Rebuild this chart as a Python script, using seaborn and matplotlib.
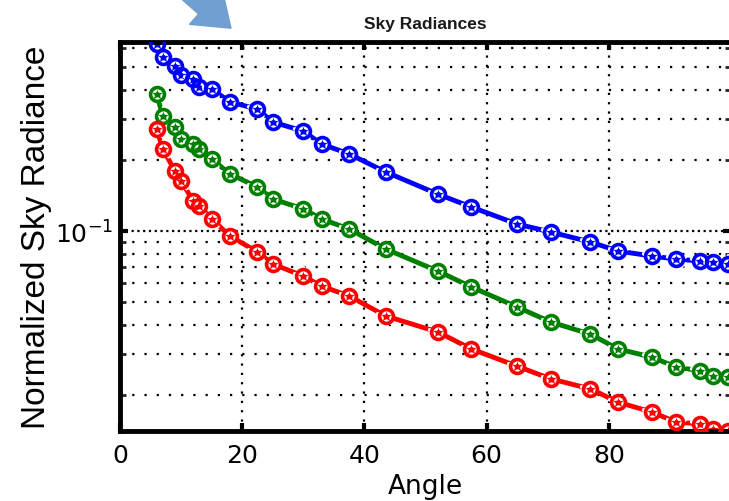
import numpy as np
import pandas as pd
import matplotlib
matplotlib.use("Agg")
import matplotlib.pyplot as plt
from matplotlib.ticker import FixedLocator, LogLocator, NullFormatter
import seaborn as sns

# Scattering angles (degrees) of the almucantar samples
angles = [6, 7, 9, 10, 12, 13, 15, 18, 22.5, 25, 30, 33, 37.5, 43.5, 52,
          57.5, 65, 70.5, 77, 81.5, 87, 91, 95, 97, 99.5]

# Normalized sky radiance per wavelength channel
blue_vals = [0.625, 0.550, 0.504, 0.461, 0.443, 0.410, 0.402, 0.354, 0.330,
             0.291, 0.266, 0.2345, 0.2127, 0.1783, 0.1437, 0.1265, 0.1071,
             0.0990, 0.0898, 0.0822, 0.0783, 0.0760, 0.0745, 0.0738, 0.0724]
green_vals = [0.383, 0.3086, 0.2771, 0.2463, 0.2345, 0.2233, 0.2025, 0.1748,
              0.1539, 0.1369, 0.1241, 0.1125, 0.1020, 0.0838, 0.0676, 0.0578,
              0.0475, 0.0410, 0.0364, 0.0315, 0.0291, 0.0264, 0.0254, 0.0242,
              0.0239]
red_vals = [0.2716, 0.2233, 0.180, 0.1632, 0.1342, 0.1278, 0.1125, 0.0952,
            0.0814, 0.0724, 0.0643, 0.0583, 0.0529, 0.0435, 0.0372, 0.0315,
            0.0266, 0.0235, 0.0213, 0.0187, 0.0170, 0.0154, 0.0151, 0.01437,
            0.0141]

channels = ["blue", "green", "red"]
channel_colors = {"blue": "#0000ff", "green": "#008000", "red": "#ff0000"}
xticks = [0, 20, 40, 60, 80]

df = pd.DataFrame({
    "Angle": angles * 3,
    "Radiance": blue_vals + green_vals + red_vals,
    "channel": sum([[c] * len(angles) for c in channels], []),
})

sns.set_theme(style="white")
plt.rcParams["font.family"] = ["DejaVu Sans"]

W, H = 729, 502
fig = plt.figure(figsize=(W / 100, H / 100), dpi=100)
ax = fig.add_axes([120 / W, 70 / H, (731 - 120) / W, (459 - 70) / H])

# modelled curve with star markers
sns.lineplot(data=df, x="Angle", y="Radiance", hue="channel",
             palette=channel_colors, sort=False, ax=ax, legend=False,
             linewidth=3.5, marker="*", markersize=15, markeredgewidth=2)
# measured values as open circles
for c in channels:
    sub = df[df["channel"] == c]
    ax.plot(sub["Angle"], sub["Radiance"], linestyle="none", marker="o",
            markersize=10, markerfacecolor="none", markeredgecolor=channel_colors[c],
            markeredgewidth=2.6, zorder=4)

ax.set_yscale("log")
ax.set_xlim(0, 100)
ax.set_ylim(0.0141, 0.637)

ax.set_xticks(xticks)
ax.set_xticklabels([str(t) for t in xticks])
ax.yaxis.set_major_locator(FixedLocator([0.1]))
ax.set_yticklabels([r"$10^{-1}$"])
ax.yaxis.set_minor_locator(LogLocator(base=10, subs=np.arange(2, 10)))
ax.yaxis.set_minor_formatter(NullFormatter())

# dotted grid
ax.grid(which="major", axis="x", color="black", linestyle=(0, (1, 3.2)), linewidth=1.6)
ax.grid(which="major", axis="y", color="black", linestyle=(0, (1, 1.6)), linewidth=1.6)
ax.grid(which="minor", axis="y", color="black", linestyle=(0, (1, 4.5)), linewidth=1.6)

for side in ["left", "bottom", "top", "right"]:
    ax.spines[side].set_visible(True)
    ax.spines[side].set_color("black")
    ax.spines[side].set_linewidth(3.5)

ax.tick_params(axis="both", which="major", direction="in", length=6, width=3,
               top=True, right=True, bottom=True, left=True,
               labelsize=18, colors="black", pad=9)
ax.tick_params(axis="y", which="major", pad=5)
ax.tick_params(axis="y", which="minor", direction="in", length=4, width=2,
               left=True, right=True)

ax.set_xlabel("Angle", fontsize=19, labelpad=4, color="black")
ax.set_ylabel("Normalized Sky Radiance", fontsize=24, family="Liberation Sans",
              color="black")
ax.yaxis.set_label_coords((52 - 120) / 611, 0.5)
ax.set_title("Sky Radiances", fontsize=12.5, fontweight="bold",
             family="Liberation Sans", pad=10, color="#1a1a1a")

# pointer arrow above the panel
ax.annotate("", xy=(233, H - 31), xytext=(175, H + 20),
            xycoords="figure pixels", textcoords="figure pixels",
            arrowprops=dict(arrowstyle="simple,head_width=1.6,head_length=1.1,tail_width=0.7",
                            mutation_scale=22, color="#6a9bd0", alpha=0.95))

fig.savefig("out.png", dpi=100)
